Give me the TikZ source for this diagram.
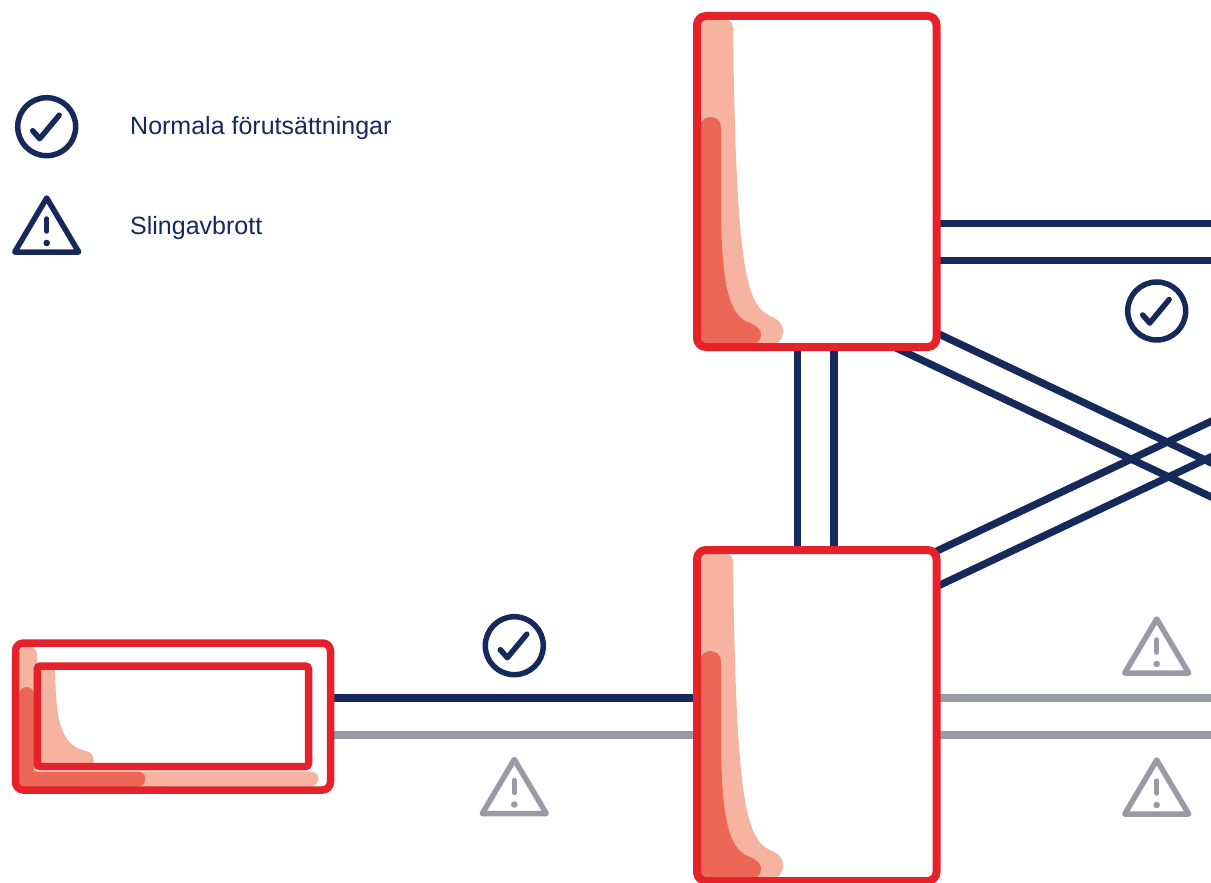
\documentclass[tikz,border=0pt]{standalone}
\usepackage{fontspec}
\setmainfont{Liberation Sans}
\definecolor{navy}{RGB}{22,41,91}
\definecolor{boxred}{RGB}{229,34,41}
\definecolor{pinkfill}{RGB}{246,180,160}
\definecolor{salmon}{RGB}{236,103,86}
\definecolor{slate}{RGB}{154,153,166}
\tikzset{
  navyline/.style={draw=navy, line width=7.3pt},
  grayline/.style={draw=slate, line width=7.3pt},
  boxbg/.style={fill=white, draw=none, inner sep=0pt, outer sep=0pt, rounded corners=9pt},
  boxedge/.style={draw=boxred, line width=8pt, rounded corners=9pt},
  smalledge/.style={draw=boxred, line width=7.5pt, rounded corners=8pt},
  inneredge/.style={draw=boxred, line width=7.5pt, rounded corners=3pt, inner sep=0pt, outer sep=0pt, fill=none},
  icon/.style={line width=5.5pt, line cap=round, line join=round},
  okicon/.pic={
    \draw[icon,draw=#1] (0,0) circle[radius=29];
    \draw[icon,draw=#1] (-14,4) -- (-7,12) -- (12.5,-11.5);
  },
  warnicon/.pic={
    \draw[icon,draw=#1] (0,-27) -- (32,27) -- (-32,27) -- cycle;
    \draw[icon,draw=#1] (0,-6) -- (0,6);
    \fill[#1] (0,18) circle[radius=3.3];
  },
  legendtext/.style={text=navy, font=\fontsize{25}{30}\selectfont, anchor=base west, inner sep=0pt},
}
\begin{document}
\begin{tikzpicture}[x=1pt,y=-1pt]
\useasboundingbox (0,0) rectangle (1211,883);
\clip (0,0) rectangle (1211,883);

% legend
\pic (lg1) at (46.7,126.7) {okicon=navy};
\pic (lg2) at (46.7,225) {warnicon=navy};
\node[legendtext] (lt1) at (130,135) {Normala förutsättningar};
\node[legendtext] (lt2) at (130,234.3) {Slingavbrott};

% connector end points
\coordinate (tR1) at (930,223.3);  \coordinate (eR1) at (1240,223.3);
\coordinate (tR2) at (930,260.7);  \coordinate (eR2) at (1240,260.7);
\coordinate (tB1) at (797.3,340);  \coordinate (bT1) at (797.3,560);
\coordinate (tB2) at (834,340);    \coordinate (bT2) at (834,560);
\coordinate (tDA) at (920,325.1);  \coordinate (eDA) at (1240,476.5);
\coordinate (tDB) at (880,340.3);  \coordinate (eDB) at (1240,510.6);
\coordinate (bDC) at (920,559);    \coordinate (eDC) at (1240,407.7);
\coordinate (bDD) at (920,594.5);  \coordinate (eDD) at (1240,443.1);
\coordinate (sR1) at (320,698);    \coordinate (bL1) at (705,698);
\coordinate (sR2) at (320,735);    \coordinate (bL2) at (705,735);
\coordinate (bR1) at (930,698);    \coordinate (eR3) at (1240,698);
\coordinate (bR2) at (930,735);    \coordinate (eR4) at (1240,735);

% connectors
\draw[navyline] (tR1) -- (eR1);
\draw[navyline] (tR2) -- (eR2);
\draw[navyline] (tB1) -- (bT1);
\draw[navyline] (tB2) -- (bT2);
\draw[navyline] (tDA) -- (eDA);
\draw[navyline] (tDB) -- (eDB);
\draw[navyline] (bDC) -- (eDC);
\draw[navyline] (bDD) -- (eDD);
\draw[navyline] (sR1) -- (bL1);
\draw[grayline] (sR2) -- (bL2);
\draw[grayline] (bR1) -- (eR3);
\draw[grayline] (bR2) -- (eR4);

% tall boxes
\node[boxbg, minimum width=239.5pt, minimum height=331pt] (top) at (816.75,181.5) {};
\node[boxbg, minimum width=239.5pt, minimum height=331pt] (bot) at (816.75,715.5) {};
\foreach \dy in {0,534}{
\begin{scope}[shift={(0,\dy)}]
\fill[pinkfill] (700,345) -- (700,20) -- (726,20) .. controls (730,20) and (733,23) .. (733,28)
  .. controls (736,260) and (745,305) .. (770,316)
  .. controls (778,319) and (784,325) .. (783,333)
  .. controls (782,339) and (779,343) .. (774,345) -- cycle;
\fill[salmon] (700,345) -- (700,127) .. controls (700,121) and (705,117) .. (710.5,117)
  .. controls (716,117) and (721,121) .. (721,127) -- (721,200)
  .. controls (721,290) and (730,316) .. (750,323)
  .. controls (757,326) and (762,330) .. (761,336)
  .. controls (760,341) and (757,344) .. (752,345) -- cycle;
\end{scope}}
\draw[boxedge] (top.north west) rectangle (top.south east);
\draw[boxedge] (bot.north west) rectangle (bot.south east);

% small box
\node[boxbg, rounded corners=8pt, minimum width=315pt, minimum height=147pt] (small) at (173,716.5) {};
\fill[pinkfill] (19,787) -- (19,654) .. controls (19,650) and (22,647) .. (26,647) -- (30,647)
  .. controls (34,647) and (37,650) .. (37,654) -- (37,771.5) -- (311,771.5)
  .. controls (315,771.5) and (318.5,775) .. (318.5,778.75)
  .. controls (318.5,782.5) and (315,786.5) .. (311,786.5) -- (19,787) -- cycle;
\fill[salmon] (19,787) -- (19,694.5) .. controls (19,690) and (22.5,687) .. (26.5,687)
  .. controls (30.5,687) and (34,690) .. (34,694.5) -- (34,771.5) -- (138,771.5)
  .. controls (142,771.5) and (145.5,775) .. (145.5,778.75)
  .. controls (145.5,782.5) and (142,786.5) .. (138,786.5) -- (19,787) -- cycle;
\fill[pinkfill] (41,766) -- (41,666) -- (55,666) .. controls (56,715) and (58,745) .. (86,751)
  .. controls (91,752) and (94,756) .. (93.5,760) -- (93.5,766) -- cycle;
\node[inneredge, minimum width=271.2pt, minimum height=100.5pt] (smallin) at (172.9,716.25) {};
\draw[smalledge] (small.north west) rectangle (small.south east);

% status icons
\pic (ic1) at (514.3,645.7) {okicon=navy};
\pic (ic2) at (514.3,786.5) {warnicon=slate};
\pic (ic3) at (1156.7,311) {okicon=navy};
\pic (ic4) at (1156.7,646) {warnicon=slate};
\pic (ic5) at (1156.7,787) {warnicon=slate};
\end{tikzpicture}
\end{document}
